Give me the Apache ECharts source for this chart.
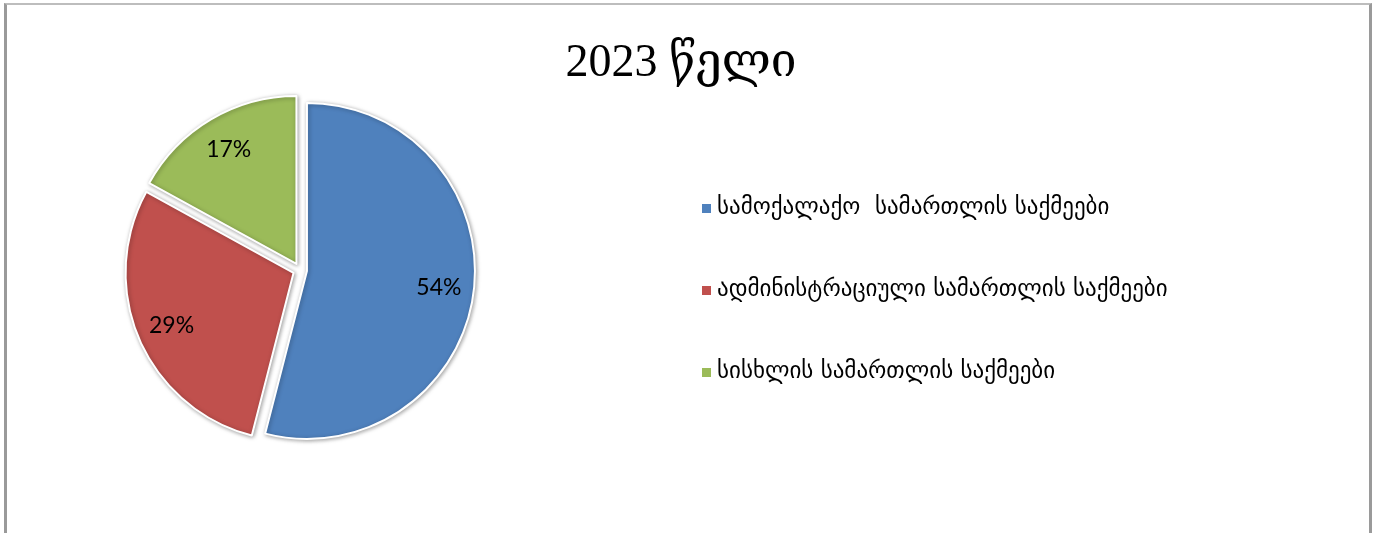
<!DOCTYPE html>
<html>
<head>
<meta charset="utf-8">
<script src="https://cdn.jsdelivr.net/npm/echarts@6/dist/echarts.min.js"></script>
<style>
html,body{margin:0;padding:0;background:#fff;width:1374px;height:533px;overflow:hidden;}
#frame{position:absolute;left:4px;top:3px;width:1362px;height:540px;border-left:3px solid #9a9a9a;border-top:2px solid #bdbdbd;border-right:3px solid #9a9a9a;}
#chart{position:absolute;left:0;top:0;width:1374px;height:533px;}
</style>
</head>
<body>
<div id="frame"></div>
<div id="chart"></div>
<script>
const titleText = "2023 წელი";
const categories = [
  "სამოქალაქო  სამართლის საქმეები",
  "ადმინისტრაციული სამართლის საქმეები",
  "სისხლის სამართლის საქმეები"
];
const values = [54, 29, 17];
const colors = ["#4F81BD", "#C0504D", "#9BBB59"];

const chart = echarts.init(document.getElementById('chart'), null, {renderer: 'canvas'});
const pieData = categories.map((c, i) => ({name: c, value: values[i], selected: true, itemStyle: {color: colors[i]}}));
const labelData = categories.map((c, i) => ({name: c, value: values[i], selected: true}));
const center = [300, 270];
chart.setOption({
  animation: false,
  title: {
    text: titleText,
    left: 676, top: 36, textAlign: 'center',
    textStyle: {fontFamily: 'Liberation Serif, DejaVu Serif', fontSize: 46, fontWeight: 'normal', color: '#000'}
  },
  legend: {
    orient: 'vertical',
    left: 695, top: 192,
    itemWidth: 11, itemHeight: 11, itemGap: 59,
    icon: 'rect',
    data: categories,
    textStyle: {fontFamily: 'DejaVu Sans', fontSize: 23, color: '#000', padding: [0,0,0,0]},
    selectedMode: false
  },
  series: [
    {
      type: 'pie',
      center: center,
      radius: [0, 168],
      startAngle: 90,
      clockwise: true,
      selectedMode: 'multiple',
      selectedOffset: 7,
      silent: true,
      data: pieData,
      itemStyle: {borderColor: '#fff', borderWidth: 2, shadowBlur: 4, shadowColor: 'rgba(0,0,0,0.35)', shadowOffsetX: 1, shadowOffsetY: 1},
      label: {show: false},
      labelLine: {show: false},
      emphasis: {disabled: true}
    },
    {
      type: 'pie',
      center: center,
      radius: [92, 168],
      startAngle: 90,
      clockwise: true,
      selectedMode: 'multiple',
      selectedOffset: 7,
      silent: true,
      legendHoverLink: false,
      data: labelData,
      itemStyle: {color: 'rgba(0,0,0,0)', borderWidth: 0},
      label: {show: true, position: 'inner', formatter: '{c}%', fontFamily: 'Lato, Open Sans', fontSize: 23, color: '#000'},
      labelLine: {show: false},
      emphasis: {disabled: true}
    }
  ]
});
</script>
</body>
</html>
